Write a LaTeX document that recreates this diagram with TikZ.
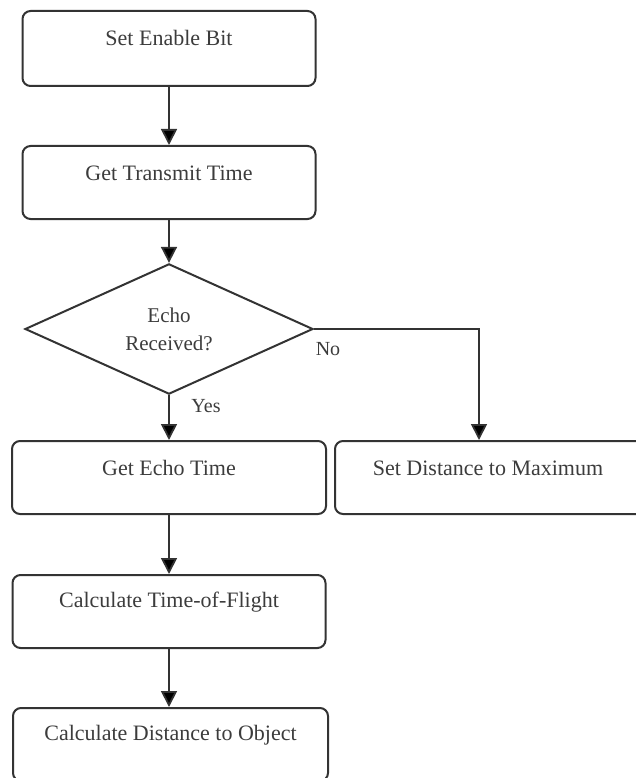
\documentclass[tikz,border=0pt]{standalone}
\usepackage{fontspec}
\setmainfont{Liberation Serif}
\usetikzlibrary{shapes.geometric,arrows.meta}
\definecolor{ln}{HTML}{333333}
\definecolor{tx}{HTML}{3C3C3C}
\tikzset{
  procbox/.style={draw=ln, line width=2pt, rounded corners=8pt, inner sep=0pt},
  lbl/.style={text=tx, font=\fontsize{22}{28}\selectfont, inner sep=0pt},
  decis/.style={draw=ln, line width=2pt, diamond, inner sep=0pt, align=center,
    text=tx, font=\fontsize{21}{28}\selectfont},
  arr/.style={draw=ln, line width=1.8pt, -{Triangle[width=16pt,length=16pt,fill=black]}}
}
\begin{document}
\begin{tikzpicture}[x=1pt,y=-1pt]
\useasboundingbox (0,0) rectangle (636,778);
\begin{scope}
\clip (0,0) rectangle (636,778);
\node[procbox, minimum width=293pt, minimum height=75pt] (b1) at (169,48.5) {};
\node[lbl] (t1) at (169,38) {Set Enable Bit};
\node[procbox, minimum width=293pt, minimum height=73pt] (b2) at (169,182.5) {};
\node[lbl] (t2) at (169,173) {Get Transmit Time};
\node[decis, minimum width=288pt, minimum height=120pt] (d) at (169,329) {Echo\\Received?};
\node[procbox, minimum width=314pt, minimum height=73pt] (b3) at (169,477.5) {};
\node[lbl] (t3) at (169,468) {Get Echo Time};
\node[procbox, minimum width=314pt, minimum height=73pt] (b4) at (492,477.5) {};
\node[lbl] (t4) at (488,468) {Set Distance to Maximum};
\node[procbox, minimum width=313pt, minimum height=73pt] (b5) at (169,611.5) {};
\node[lbl] (t5) at (169,602) {Calculate Time-of-Flight};
\node[procbox, minimum width=315pt, minimum height=73pt] (b6) at (170.5,744.5) {};
\node[lbl] (t6) at (170.5,735) {Calculate Distance to Object};
\node[lbl, font=\fontsize{20}{24}\selectfont] (no) at (328,349) {No};
\node[lbl, font=\fontsize{20}{24}\selectfont] (yes) at (206,406) {Yes};
\coordinate (turn) at (479,329);
\draw[arr] (b1.south) -- (b2.north);
\draw[arr] (b2.south) -- (d.north);
\draw[arr] (d.south) -- (b3.north);
\draw[arr] (d.east) -- (turn) -- (turn |- b4.north);
\draw[arr] (b3.south) -- (b5.north);
\draw[arr] (b5.south) -- (b6.north -| b5.south);
\end{scope}
\end{tikzpicture}
\end{document}
